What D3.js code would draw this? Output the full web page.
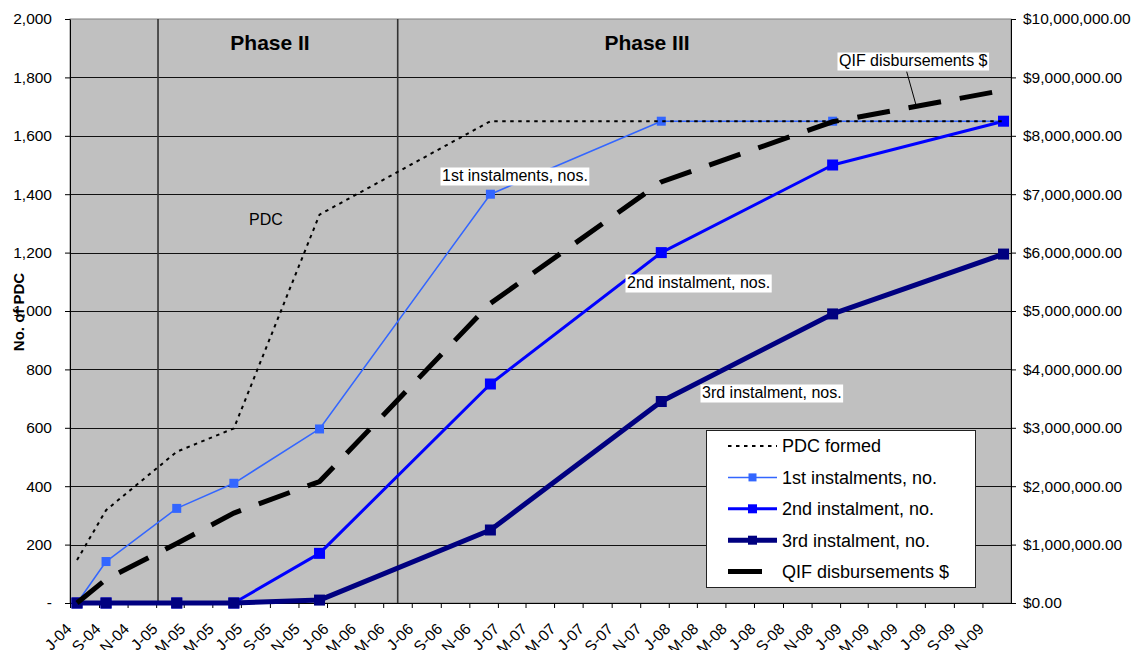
<!DOCTYPE html>
<html>
<head>
<meta charset="utf-8">
<script src="https://cdn.jsdelivr.net/npm/d3@7/dist/d3.min.js"></script>
<style>
  body { margin: 0; background: #fff; }
  text { font-family: "Liberation Sans", Arial, sans-serif; fill: #000; }
</style>
</head>
<body>
<div id="chart"></div>
<script>
/* global d3 */

// DATA
var axisExtent = ["2004-07-01", "2010-01-01"];
var pointDates = ["2004-07-16", "2004-09-16", "2005-02-14", "2005-06-16", "2005-12-16",
  "2006-12-16", "2007-12-16", "2008-12-16", "2009-12-16"];
var pdcFormed = [147, 318, 518, 598, 1330, 1650, 1650, 1650, 1650];
var firstInstalments = [0, 142, 324, 410, 596, 1400, 1650, 1650, 1650];
var secondInstalments = [0, 0, 0, 0, 170, 750, 1200, 1500, 1650];
var thirdInstalments = [0, 0, 0, 0, 10, 250, 690, 990, 1195];
var qifDisbursements = [0, 406000, 1020000, 1540000, 2080000, 5130000, 7210000, 8240000, 8780000];
var phaseStarts = ["2005-01-05", "2006-06-01"];
var phaseNames = ["Phase II", "Phase III"];
var leftTicks = [0, 200, 400, 600, 800, 1000, 1200, 1400, 1600, 1800, 2000];
var rightTicks = [0, 1000000, 2000000, 3000000, 4000000, 5000000, 6000000, 7000000, 8000000, 9000000, 10000000];
var legendLabels = ["PDC formed", "1st instalments, no.", "2nd instalment, no.", "3rd instalment, no.", "QIF disbursements $"];

var
  width = 1135,
  height = 650,
  margin = { top: 19, right: 124, bottom: 47, left: 70 },
  innerWidth = width - margin.left - margin.right,
  innerHeight = height - margin.top - margin.bottom,
  parseDate = d3.timeParse("%Y-%m-%d");

var xScale = d3.scaleTime()
  .domain(axisExtent.map(parseDate))
  .range([0, innerWidth]);
var yLeft = d3.scaleLinear().domain([0, 2000]).range([innerHeight, 0]);
var yRight = d3.scaleLinear().domain([0, 10000000]).range([innerHeight, 0]);

var dates = pointDates.map(parseDate);
function rows(values) {
  return values.map(function (v, i) { return { date: dates[i], value: v }; });
}

// series styles
var countSeries = [
  { name: "1st", values: rows(firstInstalments), color: "#3366ff", width: 1.5, marker: 9 },
  { name: "2nd", values: rows(secondInstalments), color: "#0000ff", width: 3, marker: 11 },
  { name: "3rd", values: rows(thirdInstalments), color: "#000080", width: 5, marker: 11 }
];

var svg = d3.select("#chart").append("svg")
  .attr("width", width)
  .attr("height", height);

var g = svg.append("g")
  .attr("transform", translation(margin.left, margin.top));

// PLOT AREA
g.append("rect")
  .attr("width", innerWidth)
  .attr("height", innerHeight)
  .attr("fill", "#c0c0c0")
  .attr("stroke", "#808080")
  .attr("stroke-width", 1);

g.selectAll(".grid")
  .data(leftTicks.filter(function (d) { return d > 0 && d < 2000; }))
  .enter().append("line")
  .attr("class", "grid")
  .attr("x1", 0)
  .attr("x2", innerWidth)
  .attr("y1", function (d) { return Math.round(yLeft(d)) + 0.5; })
  .attr("y2", function (d) { return Math.round(yLeft(d)) + 0.5; })
  .attr("stroke", "#111")
  .attr("stroke-width", 1);

// phase boundaries
g.selectAll(".phase")
  .data(phaseStarts.map(parseDate))
  .enter().append("line")
  .attr("class", "phase")
  .attr("x1", function (d) { return xScale(d); })
  .attr("x2", function (d) { return xScale(d); })
  .attr("y1", 0)
  .attr("y2", innerHeight)
  .attr("stroke", "#333")
  .attr("stroke-width", 1.6);

g.selectAll(".phase-label")
  .data(phaseNames)
  .enter().append("text")
  .attr("class", "phase-label")
  .attr("x", function (d, i) { return [200, 577][i]; })
  .attr("y", 31)
  .attr("text-anchor", "middle")
  .style("font-size", "21px")
  .style("font-weight", "bold")
  .text(function (d) { return d; });

// AXES
var xTicks = d3.timeMonth.every(2).range(xScale.domain()[0], xScale.domain()[1]);
var monthLetter = d3.timeFormat("%b"), yearShort = d3.timeFormat("%y");

var xAxis = d3.axisBottom(xScale)
  .tickValues(xTicks)
  .tickSize(5)
  .tickSizeOuter(0)
  .tickFormat(function (d) { return monthLetter(d).charAt(0) + "-" + yearShort(d); });

g.append("g")
  .attr("class", "axis x")
  .attr("transform", translation(0, innerHeight))
  .call(xAxis)
  .call(function (a) {
    a.selectAll("text")
      .attr("x", 0).attr("y", 0).attr("dy", 0)
      .attr("transform", "translate(2,27) rotate(-45)")
      .attr("text-anchor", "end")
      .style("font-size", "15.5px");
  });

g.append("g")
  .attr("class", "axis y left")
  .call(d3.axisLeft(yLeft)
    .tickValues(leftTicks)
    .tickSize(5)
    .tickSizeOuter(0)
    .tickPadding(13)
    .tickFormat(function (d) { return d === 0 ? "-" : d3.format(",")(d); }))
  .selectAll("text")
  .style("font-size", "15.5px");

g.append("g")
  .attr("class", "axis y right")
  .attr("transform", translation(innerWidth, 0))
  .call(d3.axisRight(yRight)
    .tickValues(rightTicks)
    .tickSize(5)
    .tickSizeOuter(0)
    .tickPadding(7)
    .tickFormat(d3.format("$,.2f")))
  .selectAll("text")
  .style("font-size", "15.5px");

g.selectAll(".axis path, .axis line").attr("stroke", "#000");
g.selectAll(".axis text").attr("fill", "#000").style("font-family", "\"Liberation Sans\", Arial, sans-serif");

svg.append("text")
  .attr("transform", translation(24, 312) + " rotate(-90)")
  .attr("text-anchor", "middle")
  .style("font-size", "15px")
  .style("font-weight", "bold")
  .text("No. of PDC");

// LINES
var countLine = d3.line()
  .x(function (d) { return xScale(d.date); })
  .y(function (d) { return yLeft(d.value); });
var moneyLine = d3.line()
  .x(function (d) { return xScale(d.date); })
  .y(function (d) { return yRight(d.value); });

countSeries.forEach(function (s) {
  g.append("path")
    .datum(s.values)
    .attr("fill", "none")
    .attr("stroke", s.color)
    .attr("stroke-width", s.width)
    .attr("stroke-linejoin", "round")
    .attr("d", countLine);

  g.selectAll(".m" + s.name)
    .data(s.values)
    .enter().append("rect")
    .attr("class", "m" + s.name)
    .attr("x", function (d) { return xScale(d.date) - s.marker / 2; })
    .attr("y", function (d) { return yLeft(d.value) - s.marker / 2; })
    .attr("width", s.marker)
    .attr("height", s.marker)
    .attr("fill", s.color);
});

g.append("path")
  .datum(rows(pdcFormed))
  .attr("fill", "none")
  .attr("stroke", "#000")
  .attr("stroke-width", 2)
  .attr("stroke-dasharray", "3.5,4.5")
  .attr("d", countLine);

g.append("path")
  .datum(rows(qifDisbursements))
  .attr("fill", "none")
  .attr("stroke", "#000")
  .attr("stroke-width", 5)
  .attr("stroke-dasharray", "33,19")
  .attr("d", moneyLine);

// ANNOTATIONS
svg.append("line")
  .attr("x1", 906.7).attr("y1", 71.7)
  .attr("x2", 916).attr("y2", 105)
  .attr("stroke", "#000")
  .attr("stroke-width", 1);

var notes = [
  { text: "1st instalments, nos.", x: 442, y: 181, box: true },
  { text: "2nd instalment, nos.", x: 627, y: 288, box: true },
  { text: "3rd instalment, nos.", x: 702, y: 398, box: true },
  { text: "QIF disbursements $", x: 839, y: 66, box: true },
  { text: "PDC", x: 249, y: 225, box: false }
];
notes.forEach(function (n) {
  var ng = svg.append("g");
  var t = ng.append("text")
    .attr("x", n.x)
    .attr("y", n.y)
    .style("font-size", "16px")
    .text(n.text);
  if (n.box) {
    var bb = t.node().getBBox();
    ng.insert("rect", "text")
      .attr("x", bb.x - 1.5)
      .attr("y", bb.y + 0.5)
      .attr("width", bb.width + 3)
      .attr("height", bb.height + 1)
      .attr("fill", "#fff");
  }
});

// LEGEND
var legend = svg.append("g").attr("transform", translation(706, 430));
legend.append("rect")
  .attr("x", 0.5).attr("y", 0.5)
  .attr("width", 269).attr("height", 157)
  .attr("fill", "#fff")
  .attr("stroke", "#222")
  .attr("stroke-width", 1);

var legendStyles = [
  { color: "#000", width: 2, dash: "3.5,4.5", marker: 0, len: 49 },
  { color: countSeries[0].color, width: countSeries[0].width, marker: 8, len: 49 },
  { color: countSeries[1].color, width: countSeries[1].width, marker: 9, len: 49 },
  { color: countSeries[2].color, width: countSeries[2].width, marker: 9, len: 49 },
  { color: "#000", width: 5, marker: 0, len: 34 }
];

var item = legend.selectAll(".item")
  .data(legendLabels)
  .enter().append("g")
  .attr("class", "item")
  .attr("transform", function (d, i) { return translation(0, 16 + i * 31.4); });

item.append("line")
  .attr("x1", 22)
  .attr("x2", function (d, i) { return 22 + legendStyles[i].len; })
  .attr("stroke", function (d, i) { return legendStyles[i].color; })
  .attr("stroke-width", function (d, i) { return legendStyles[i].width; })
  .attr("stroke-dasharray", function (d, i) { return legendStyles[i].dash || null; });

item.filter(function (d, i) { return legendStyles[i].marker > 0; })
  .append("rect")
  .attr("x", function (d) { var m = legendStyles[legendLabels.indexOf(d)].marker; return 46.5 - m / 2; })
  .attr("y", function (d) { var m = legendStyles[legendLabels.indexOf(d)].marker; return -m / 2; })
  .attr("width", function (d) { return legendStyles[legendLabels.indexOf(d)].marker; })
  .attr("height", function (d) { return legendStyles[legendLabels.indexOf(d)].marker; })
  .attr("fill", function (d) { return legendStyles[legendLabels.indexOf(d)].color; });

item.append("text")
  .attr("x", 76)
  .attr("dy", "0.35em")
  .style("font-size", "18px")
  .text(function (d) { return d; });

function translation(x, y) {
  return "translate(" + x + "," + y + ")";
}
</script>
</body>
</html>
